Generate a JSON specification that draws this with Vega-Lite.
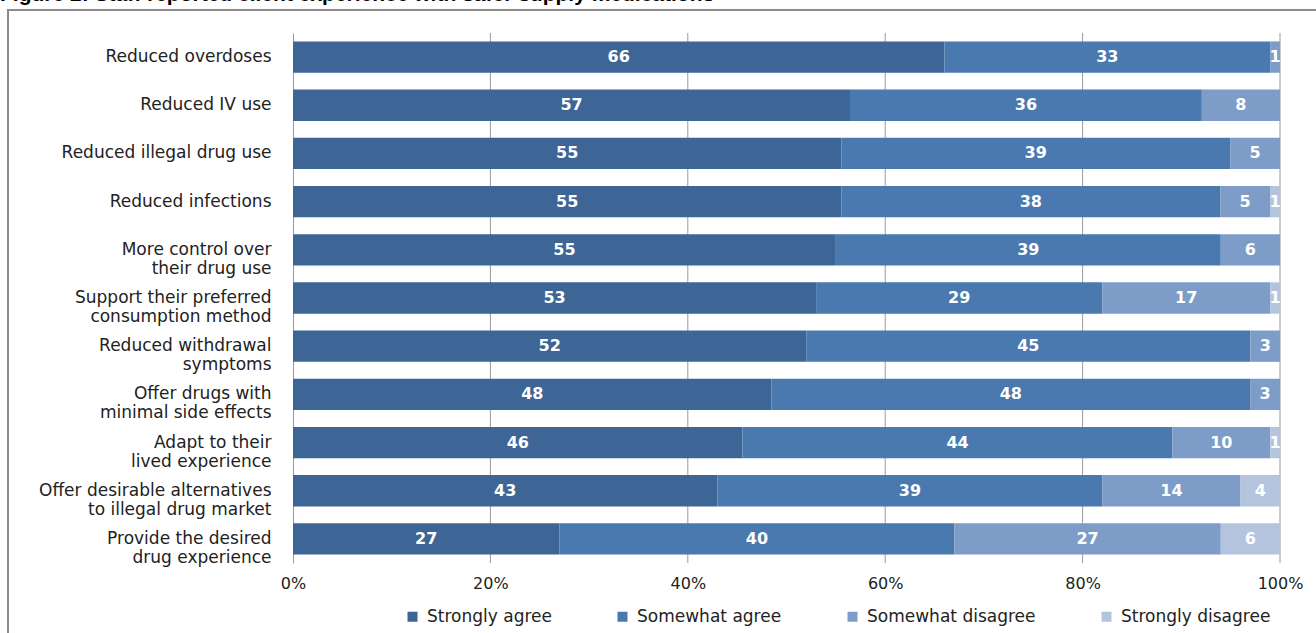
{
  "$schema": "https://vega.github.io/schema/vega-lite/v6.json",
  "width": 1320,
  "height": 640,
  "autosize": {"type": "none"},
  "padding": {"left": 8, "top": 10, "right": 0, "bottom": 0},
  "background": "white",
  "title": {
    "text": "Figure 2: Staff reported client experience with safer supply medications",
    "anchor": "start",
    "frame": "group",
    "font": "Liberation Sans",
    "fontSize": 21,
    "fontWeight": "bold",
    "color": "#000000",
    "baseline": "alphabetic",
    "offset": 5,
    "dx": -8,
    "dy": 17
  },
  "config": {
    "view": {"stroke": "#8c8c8c", "strokeWidth": 2},
    "font": "DejaVu Sans"
  },
  "resolve": {"scale": {"y": "independent"}},
  "layer": [
    {
      "data": {"values": [{"g": 0.2}, {"g": 0.4}, {"g": 0.6}, {"g": 0.8}, {"g": 1}]},
      "mark": {"type": "rule", "color": "#9a9a9a", "strokeWidth": 1},
      "encoding": {
        "x": {
          "field": "g",
          "type": "quantitative",
          "scale": {"domain": [0, 1], "range": [285, 1272]},
          "axis": {
            "title": null, "format": ".0%", "values": [0, 0.2, 0.4, 0.6, 0.8, 1],
            "orient": "bottom", "offset": -75, "ticks": false, "domain": false, "grid": false,
            "labelPadding": 0, "labelFont": "DejaVu Sans", "labelFontSize": 16, "labelColor": "#222222",
            "labelFlush": false, "labelOverlap": false, "labelBound": false, "labelBaseline": "top"
          }
        },
        "y": {"datum": 0, "type": "quantitative", "scale": {"domain": [0, 1], "range": [23, 553]}, "axis": null},
        "y2": {"datum": 1}
      }
    },
    {
      "data": {
        "values": [
          {"item": "Reduced overdoses", "cat": "Strongly agree", "value": 66},
          {"item": "Reduced overdoses", "cat": "Somewhat agree", "value": 33},
          {"item": "Reduced overdoses", "cat": "Somewhat disagree", "value": 1},
          {"item": "Reduced overdoses", "cat": "Strongly disagree", "value": 0},
          {"item": "Reduced IV use", "cat": "Strongly agree", "value": 57},
          {"item": "Reduced IV use", "cat": "Somewhat agree", "value": 36},
          {"item": "Reduced IV use", "cat": "Somewhat disagree", "value": 8},
          {"item": "Reduced IV use", "cat": "Strongly disagree", "value": 0},
          {"item": "Reduced illegal drug use", "cat": "Strongly agree", "value": 55},
          {"item": "Reduced illegal drug use", "cat": "Somewhat agree", "value": 39},
          {"item": "Reduced illegal drug use", "cat": "Somewhat disagree", "value": 5},
          {"item": "Reduced illegal drug use", "cat": "Strongly disagree", "value": 0},
          {"item": "Reduced infections", "cat": "Strongly agree", "value": 55},
          {"item": "Reduced infections", "cat": "Somewhat agree", "value": 38},
          {"item": "Reduced infections", "cat": "Somewhat disagree", "value": 5},
          {"item": "Reduced infections", "cat": "Strongly disagree", "value": 1},
          {"item": "More control over|their drug use", "cat": "Strongly agree", "value": 55},
          {"item": "More control over|their drug use", "cat": "Somewhat agree", "value": 39},
          {"item": "More control over|their drug use", "cat": "Somewhat disagree", "value": 6},
          {"item": "More control over|their drug use", "cat": "Strongly disagree", "value": 0},
          {"item": "Support their preferred|consumption method", "cat": "Strongly agree", "value": 53},
          {"item": "Support their preferred|consumption method", "cat": "Somewhat agree", "value": 29},
          {"item": "Support their preferred|consumption method", "cat": "Somewhat disagree", "value": 17},
          {"item": "Support their preferred|consumption method", "cat": "Strongly disagree", "value": 1},
          {"item": "Reduced withdrawal|symptoms", "cat": "Strongly agree", "value": 52},
          {"item": "Reduced withdrawal|symptoms", "cat": "Somewhat agree", "value": 45},
          {"item": "Reduced withdrawal|symptoms", "cat": "Somewhat disagree", "value": 3},
          {"item": "Reduced withdrawal|symptoms", "cat": "Strongly disagree", "value": 0},
          {"item": "Offer drugs with|minimal side effects", "cat": "Strongly agree", "value": 48},
          {"item": "Offer drugs with|minimal side effects", "cat": "Somewhat agree", "value": 48},
          {"item": "Offer drugs with|minimal side effects", "cat": "Somewhat disagree", "value": 3},
          {"item": "Offer drugs with|minimal side effects", "cat": "Strongly disagree", "value": 0},
          {"item": "Adapt to their|lived experience", "cat": "Strongly agree", "value": 46},
          {"item": "Adapt to their|lived experience", "cat": "Somewhat agree", "value": 44},
          {"item": "Adapt to their|lived experience", "cat": "Somewhat disagree", "value": 10},
          {"item": "Adapt to their|lived experience", "cat": "Strongly disagree", "value": 1},
          {"item": "Offer desirable alternatives|to illegal drug market", "cat": "Strongly agree", "value": 43},
          {"item": "Offer desirable alternatives|to illegal drug market", "cat": "Somewhat agree", "value": 39},
          {"item": "Offer desirable alternatives|to illegal drug market", "cat": "Somewhat disagree", "value": 14},
          {"item": "Offer desirable alternatives|to illegal drug market", "cat": "Strongly disagree", "value": 4},
          {"item": "Provide the desired|drug experience", "cat": "Strongly agree", "value": 27},
          {"item": "Provide the desired|drug experience", "cat": "Somewhat agree", "value": 40},
          {"item": "Provide the desired|drug experience", "cat": "Somewhat disagree", "value": 27},
          {"item": "Provide the desired|drug experience", "cat": "Strongly disagree", "value": 6}
        ]
      },
      "transform": [
        {"filter": "datum.value > 0"},
        {"calculate": "indexof(['Strongly agree','Somewhat agree','Somewhat disagree','Strongly disagree'], datum.cat)", "as": "k"},
        {"stack": "value", "groupby": ["item"], "sort": [{"field": "k", "order": "ascending"}], "offset": "normalize", "as": ["v0", "v1"]},
        {"calculate": "(datum.v0 + datum.v1) / 2", "as": "mid"}
      ],
      "encoding": {
        "y": {
          "field": "item",
          "type": "nominal",
          "sort": null,
          "scale": {"range": [23, 553], "paddingInner": 0.35, "paddingOuter": 0.175},
          "axis": {
            "title": null, "offset": -285, "ticks": false, "labelPadding": 22,
            "domainColor": "#9a9a9a", "domainWidth": 1,
            "labelFont": "DejaVu Sans", "labelFontSize": 17, "labelColor": "#222222",
            "labelExpr": "split(datum.label, '|')", "labelLineHeight": 19, "labelLimit": 400
          }
        }
      },
      "layer": [
        {
          "mark": {"type": "bar"},
          "encoding": {
            "x": {
              "field": "v0",
              "type": "quantitative",
              "stack": null,
              "scale": {"domain": [0, 1], "range": [285, 1272]},
              "axis": {
                "title": null, "format": ".0%", "values": [0, 0.2, 0.4, 0.6, 0.8, 1],
                "orient": "bottom", "offset": -75, "ticks": false, "domain": false, "grid": false,
                "labelPadding": 0, "labelFont": "DejaVu Sans", "labelFontSize": 16, "labelColor": "#222222",
                "labelFlush": false, "labelOverlap": false, "labelBound": false, "labelBaseline": "top"
              }
            },
            "x2": {"field": "v1"},
            "color": {
              "field": "cat",
              "type": "nominal",
              "scale": {
                "domain": ["Strongly agree", "Somewhat agree", "Somewhat disagree", "Strongly disagree"],
                "range": ["#3d6596", "#4a79b0", "#7e9cc8", "#b4c4df"]
              },
              "legend": {
                "title": null, "orient": "none", "legendX": 396, "legendY": 598,
                "direction": "horizontal", "symbolType": "square", "symbolSize": 100,
                "symbolStrokeWidth": 0, "labelFont": "DejaVu Sans", "labelFontSize": 17,
                "labelColor": "#222222", "columnPadding": 62, "labelOffset": 6, "labelLimit": 300
              }
            }
          }
        },
        {
          "mark": {"type": "text", "color": "white", "font": "DejaVu Sans", "fontWeight": "bold", "fontSize": 16},
          "encoding": {
            "x": {"field": "mid", "type": "quantitative", "stack": null},
            "text": {"field": "value", "type": "quantitative"}
          }
        }
      ]
    }
  ]
}
